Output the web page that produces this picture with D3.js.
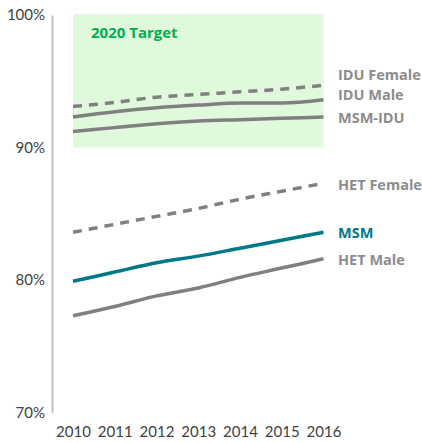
<!DOCTYPE html>
<html>
<head>
<meta charset="utf-8">
<script src="https://cdn.jsdelivr.net/npm/d3@7"></script>
<style>
  body { margin: 0; background: #fff; }
</style>
</head>
<body>
<div id="chart"></div>
<script>
// data
var years = [2010, 2011, 2012, 2013, 2014, 2015, 2016];
var yTicks = [0.70, 0.80, 0.90, 1.00];
var seriesNames = ["IDU Female", "IDU Male", "MSM-IDU", "HET Female", "MSM", "HET Male"];
var iduFemale = [93.1, 93.4, 93.8, 94.0, 94.2, 94.4, 94.7];
var iduMale = [92.3, 92.7, 93.0, 93.2, 93.35, 93.35, 93.6];
var msmIdu = [91.2, 91.5, 91.8, 92.0, 92.1, 92.2, 92.3];
var hetFemale = [83.6, 84.2, 84.8, 85.4, 86.1, 86.7, 87.3];
var msm = [79.9, 80.6, 81.3, 81.8, 82.4, 83.0, 83.6];
var hetMale = [77.3, 78.0, 78.8, 79.4, 80.2, 80.9, 81.6];
var targetBand = [90, 100];

var width = 422, height = 443;
var margin = {top: 15, right: 98, bottom: 30, left: 52};

var svg = d3.select("#chart")
            .append("svg")
            .attr("width", width)
            .attr("height", height);

var xScale = d3.scalePoint()
               .domain(years)
               .range([73, 323.5]);
var yScale = d3.scaleLinear()
               .domain([70, 100])
               .range([412.5, 15]);

// 2020 target area
svg.append("rect")
   .attr("x", xScale(2010))
   .attr("y", yScale(targetBand[1]) - 1)
   .attr("width", xScale(2016) - xScale(2010))
   .attr("height", yScale(targetBand[0]) - yScale(targetBand[1]) + 1)
   .attr("fill", "#e0f8dc");
svg.append("text")
   .attr("x", 91)
   .attr("y", 38)
   .attr("fill", "#00b050")
   .style("font-family", "'Open Sans', sans-serif")
   .style("font-weight", "bold")
   .style("font-size", "15px")
   .text("2020 Target");

// y axis
var yAxis = svg.append("g")
               .attr("transform", "translate(" + margin.left + ",0)")
               .call(d3.axisLeft(yScale)
                       .tickValues(yTicks.map(d => d * 100))
                       .tickSize(0)
                       .tickPadding(7)
                       .tickFormat(d => d + "%"));
yAxis.select(".domain").attr("stroke", "#bfbfbf").attr("stroke-width", 2);
yAxis.selectAll("text")
     .style("font-family", "Lato, sans-serif")
     .style("font-size", "15px")
     .attr("fill", "#404040");

// x axis (labels only)
var xAxis = svg.append("g")
               .attr("transform", "translate(0," + 418 + ")")
               .call(d3.axisBottom(xScale).tickSize(0).tickPadding(8));
xAxis.select(".domain").remove();
xAxis.selectAll("text")
     .style("font-family", "Lato, sans-serif")
     .style("font-size", "15px")
     .attr("fill", "#404040");

var series = [
  {name: seriesNames[0], values: iduFemale, color: "#808080", dash: "9,7", labelY: 75},
  {name: seriesNames[1], values: iduMale, color: "#808080", dash: null, labelY: 94.5},
  {name: seriesNames[2], values: msmIdu, color: "#808080", dash: null, labelY: 118},
  {name: seriesNames[3], values: hetFemale, color: "#808080", dash: "9,7", labelY: 184.5},
  {name: seriesNames[4], values: msm, color: "#00788a", dash: null, labelY: 233},
  {name: seriesNames[5], values: hetMale, color: "#808080", dash: null, labelY: 260}
];

var line = d3.line()
             .x((d, i) => xScale(years[i]))
             .y(d => yScale(d))
             .curve(d3.curveMonotoneX);

svg.append("g")
   .selectAll("path")
   .data(series)
   .enter()
   .append("path")
   .attr("d", d => line(d.values))
   .attr("fill", "none")
   .attr("stroke", d => d.color)
   .attr("stroke-width", 3.5)
   .attr("stroke-dasharray", d => d.dash);

svg.append("g")
   .selectAll("text")
   .data(series)
   .enter()
   .append("text")
   .attr("x", 338)
   .attr("y", d => d.labelY)
   .attr("dy", "0.36em")
   .style("font-family", "'Open Sans', sans-serif")
   .style("font-weight", "bold")
   .style("font-size", "14.5px")
   .attr("fill", d => d.name == "MSM" ? "#00788a" : "#8c8c8c")
   .text(d => d.name);
</script>
</body>
</html>
